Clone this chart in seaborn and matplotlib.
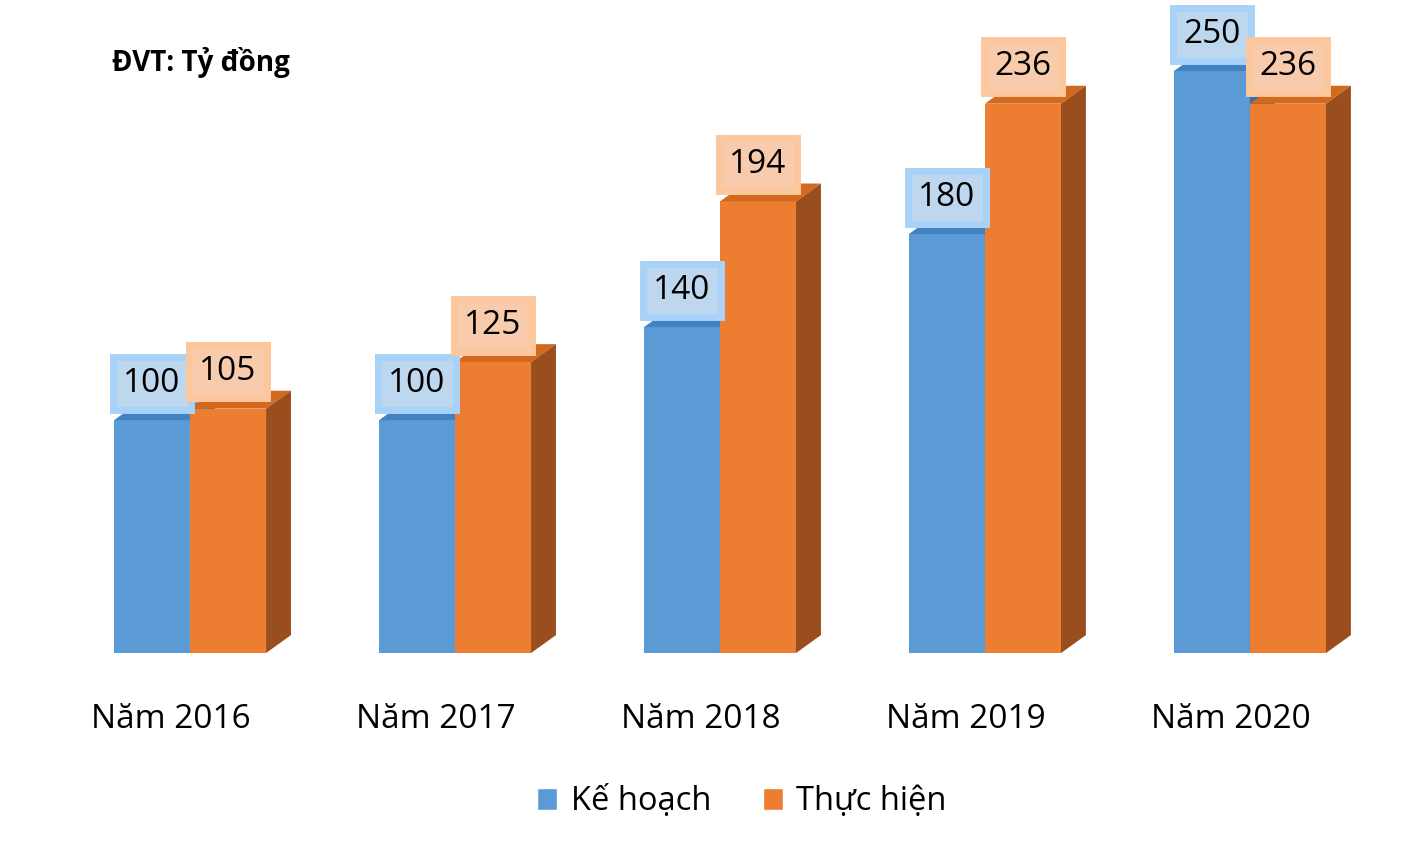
import matplotlib
matplotlib.use("Agg")
import matplotlib.pyplot as plt
import seaborn as sns
import pandas as pd
from matplotlib.patches import Polygon, Patch
from matplotlib.transforms import ScaledTranslation

years = ["Năm 2016", "Năm 2017", "Năm 2018", "Năm 2019", "Năm 2020"]
series = ["Kế hoạch", "Thực hiện"]
ke_hoach = [100, 100, 140, 180, 250]
thuc_hien = [105, 125, 194, 236, 236]

df = pd.DataFrame({
    "Năm": years * 2,
    "Loại": [series[0]] * len(years) + [series[1]] * len(years),
    "Giá trị": ke_hoach + thuc_hien,
})

front = ["#5B9BD5", "#ED7D31"]
top_col = ["#4281C2", "#D2691F"]
side_col = ["#3A6FA8", "#9A4E1E"]
box_fc = ["#BDD7EE", "#F8CBAD"]
box_ec = ["#A9D2F8", "#FCC79C"]

sns.set_theme(style="white")
plt.rcParams["font.family"] = ["Open Sans", "DejaVu Sans"]
plt.rcParams["text.color"] = "black"
plt.rcParams["xtick.color"] = "black"

fig = plt.figure(figsize=(14.17, 8.41), dpi=100)
ax = fig.add_axes([0.0406, 0.2235, 0.935, 0.775])
sns.barplot(data=df, x="Năm", y="Giá trị", hue="Loại", palette=front,
            width=0.574, gap=0, linewidth=0, saturation=1, legend=False, ax=ax)
ax.set_xlim(-0.5, 4.5)
ax.set_ylim(0, 280)

# fake 3D: top and side faces
dx, dy = 0.094, 7.7
bars = list(ax.patches)
n = len(years)
for i, bar in enumerate(bars):
    s = i // n
    z = 2 + s
    bar.set_zorder(z)
    x0, w, h = bar.get_x(), bar.get_width(), bar.get_height()
    ax.add_patch(Polygon([(x0, h), (x0 + w, h), (x0 + w + dx, h + dy), (x0 + dx, h + dy)],
                         closed=True, fc=top_col[s], ec="none", zorder=z))
    ax.add_patch(Polygon([(x0 + w, 0), (x0 + w + dx, dy), (x0 + w + dx, h + dy), (x0 + w, h)],
                         closed=True, fc=side_col[s], ec="none", zorder=z))
    ax.annotate(f"{h:.0f}", (x0 + w / 2, h), xytext=(0, 37), textcoords="offset pixels",
                ha="center", va="center", fontsize=24, color="black", zorder=6,
                annotation_clip=False,
                bbox=dict(boxstyle="square,pad=0.3", fc=box_fc[s], ec=box_ec[s], lw=5))

ax.set_xlabel("")
ax.set_ylabel("")
ax.set_yticks([])
ax.tick_params(axis="x", length=0, pad=36, labelsize=24, labelcolor="black")
for lbl in ax.get_xticklabels():
    lbl.set_transform(lbl.get_transform() + ScaledTranslation(-0.19, 0, fig.dpi_scale_trans))
sns.despine(ax=ax, left=True, bottom=True)

fig.text(112 / 1417, 1 - 62 / 841, "ĐVT: Tỷ đồng", fontsize=20, fontweight="bold",
         ha="left", va="center", color="black")

handles = [Patch(fc=front[0]), Patch(fc=front[1])]
fig.legend(handles=handles, labels=series, loc="center",
           bbox_to_anchor=(742 / 1417, 1 - 802 / 841), ncol=2, frameon=False,
           fontsize=23.5, handlelength=0.62, handleheight=0.62,
           handletextpad=0.4, columnspacing=1.6)

fig.savefig("out.png", dpi=100)
